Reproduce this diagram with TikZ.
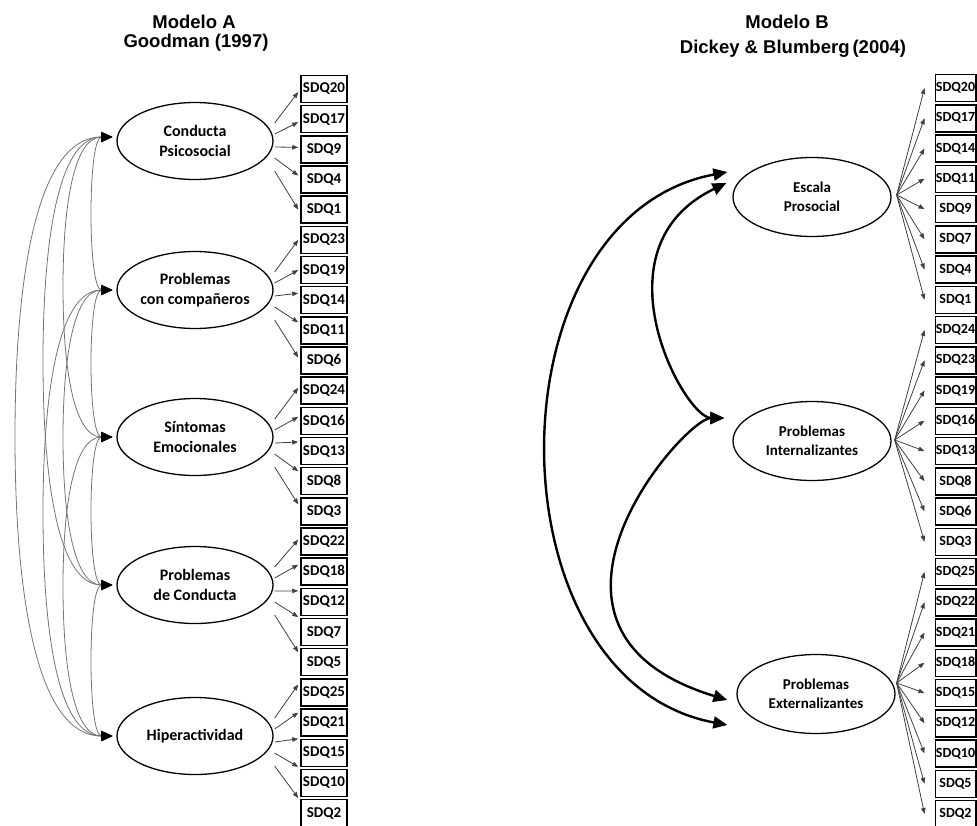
\documentclass[tikz,border=0pt]{standalone}
\usepackage{fontspec}
\setmainfont{Carlito}
\newfontfamily\titlefont{Liberation Sans}
\usetikzlibrary{arrows.meta,shapes.geometric,calc}
\begin{document}
\begin{tikzpicture}[x=1pt,y=-1pt,
  box/.style={draw, line width=1.5pt, minimum width=46pt, minimum height=27pt, inner sep=0pt, font=\bfseries\fontsize{15}{15}\selectfont},
  boxB/.style={box, minimum width=40.5pt, font=\bfseries\fontsize{14}{14}\selectfont},
  lat/.style={draw, ellipse, line width=1.3pt, minimum width=156pt, minimum height=77pt, inner sep=0pt, align=center, font=\bfseries\fontsize{16}{19.5}\selectfont},
  latB/.style={lat, minimum width=158pt, minimum height=79pt, font=\bfseries\fontsize{15}{19}\selectfont},
  load/.style={draw=black!75, line width=0.8pt, -{Triangle[length=6pt,width=4.5pt]}},
  cov/.style={draw=black!55, line width=0.8pt, {Triangle[length=11pt,width=10pt,color=black]}-{Triangle[length=11pt,width=10pt,color=black]}},
  bigcov/.style={draw=black, line width=2.4pt, {Triangle[length=14pt,width=12pt]}-{Triangle[length=14pt,width=12pt]}},
  ttl/.style={font=\titlefont\bfseries\fontsize{18.5}{18.5}\selectfont, inner sep=0pt, anchor=base}]
\useasboundingbox (0,0) rectangle (977,825);
\clip (0,0) rectangle (977,825);

% titles
\node[ttl] (tA1) at (194,28) {Modelo A};
\node[ttl] (tA2) at (196,47) {Goodman (1997)};
\node[ttl] (tB1) at (787,28) {Modelo B};
\node[ttl] (tB2) at (793,53) {Dickey \& Blumberg\hspace{3pt}(2004)};

% ---------- Modelo A ----------
\node[lat] (e1) at (195,141) {Conducta\\Psicosocial};
\node[lat] (e2) at (195,290) {Problemas\\con compañeros};
\node[lat] (e3) at (195,437) {Síntomas\\Emocionales};
\node[lat] (e4) at (195,585) {Problemas\\de Conducta};
\node[lat] (e5) at (195,736) {Hiperactividad};

\foreach \lab [count=\i from 0] in {20,17,9,4,1,23,19,14,11,6,24,16,13,8,3,22,18,12,7,5,25,21,15,10,2}
  \node[box] (a\lab) at (324,{89+30.17*\i}) {SDQ\lab};

\foreach \e/\b/\s/\d in {1/20/-18/3, 1/17/-7/3, 1/9/6/-2, 1/4/17/-4, 1/1/30/0,
  2/23/-18/0, 2/19/-7/0, 2/14/6/-7, 2/11/17/-8, 2/6/30/-3,
  3/24/-18/-3, 3/16/-7/-4, 3/13/6/-9, 3/8/17/-10, 3/3/30/-7,
  4/22/-18/-2, 4/18/-7/-7, 4/12/6/-11, 4/7/17/-15, 4/5/30/-10,
  5/25/-18/-8, 5/21/-7/-10, 5/15/6/-14, 5/10/17/-16, 5/2/30/-15}
  \draw[load] ($(e\e.east)+(1,\s)$) -- ($(a\b.west)+(-2,\d)$);

\coordinate (t1) at ($(e1.west)+(-4,-4)$);
\coordinate (t2) at ($(e2.west)+(-4,0)$);
\coordinate (t3) at ($(e3.west)+(-4,0)$);
\coordinate (t4) at ($(e4.west)+(-4,0)$);
\coordinate (t5) at ($(e5.west)+(-4,0)$);

\foreach \i/\j/\c/\xm/\ym/\hh in {1/2/18/91/213.5/38, 2/3/18/91/363.5/37, 3/4/18/91/511/37, 4/5/18/91/660.5/38,
  1/3/40/63/287/75, 2/4/40/63/437.5/74, 3/5/40/63/586.5/75,
  1/4/56/43/361/112, 2/5/56/43/513/112, 1/5/78/15/436.5/150}
  \draw[cov] (t\i) .. controls +(-\c,0) and +(0,-\hh) .. (\xm,\ym) .. controls +(0,\hh) and +(-\c,0) .. (t\j);

% ---------- Modelo B ----------
\node[latB] (E1) at (812,197) {Escala\\Prosocial};
\node[latB] (E2) at (812,441) {Problemas\\Internalizantes};
\node[latB] (E3) at (816,694) {Problemas\\Externalizantes};

\foreach \lab [count=\i from 0] in {20,17,14,11,9,7,4,1,24,23,19,16,13,8,6,3,25,22,21,18,15,12,10,5,2}
  \node[boxB] (b\lab) at (955.5,{88+30.25*\i}) {SDQ\lab};

\coordinate (f1) at ($(E1.east)+(5,-2)$);
\coordinate (f2) at ($(E2.east)+(3,-1)$);
\coordinate (f3) at ($(E3.east)+(1,-11)$);
\foreach \b in {20,17,14,11,9,7,4,1} \draw[load] (f1) -- ($(b\b.west)+(-10,0)$);
\foreach \b in {24,23,19,16,13,8,6,3} \draw[load] (f2) -- ($(b\b.west)+(-10,0)$);
\foreach \b in {25,22,21,18,15,12,10,5,2} \draw[load] (f3) -- ($(b\b.west)+(-10,0)$);

\coordinate (r1a) at ($(E1.west)+(-5,-25)$);
\coordinate (r1b) at ($(E1.west)+(-6,-14)$);
\coordinate (r2)  at ($(E2.west)+(-8,-23)$);
\coordinate (r3a) at ($(E3.west)+(-9,6)$);
\coordinate (r3b) at ($(E3.west)+(-9,31)$);

\draw[bigcov] (r1a) .. controls +(-240,45) and +(-240,-45) .. (r3b);
\draw[bigcov] (r1b) .. controls +(-135,65) and +(-40,0) .. (r2);
\draw[bigcov] (r2) .. controls +(-40,0) and +(-230,-70) .. (r3a);
\end{tikzpicture}
\end{document}
